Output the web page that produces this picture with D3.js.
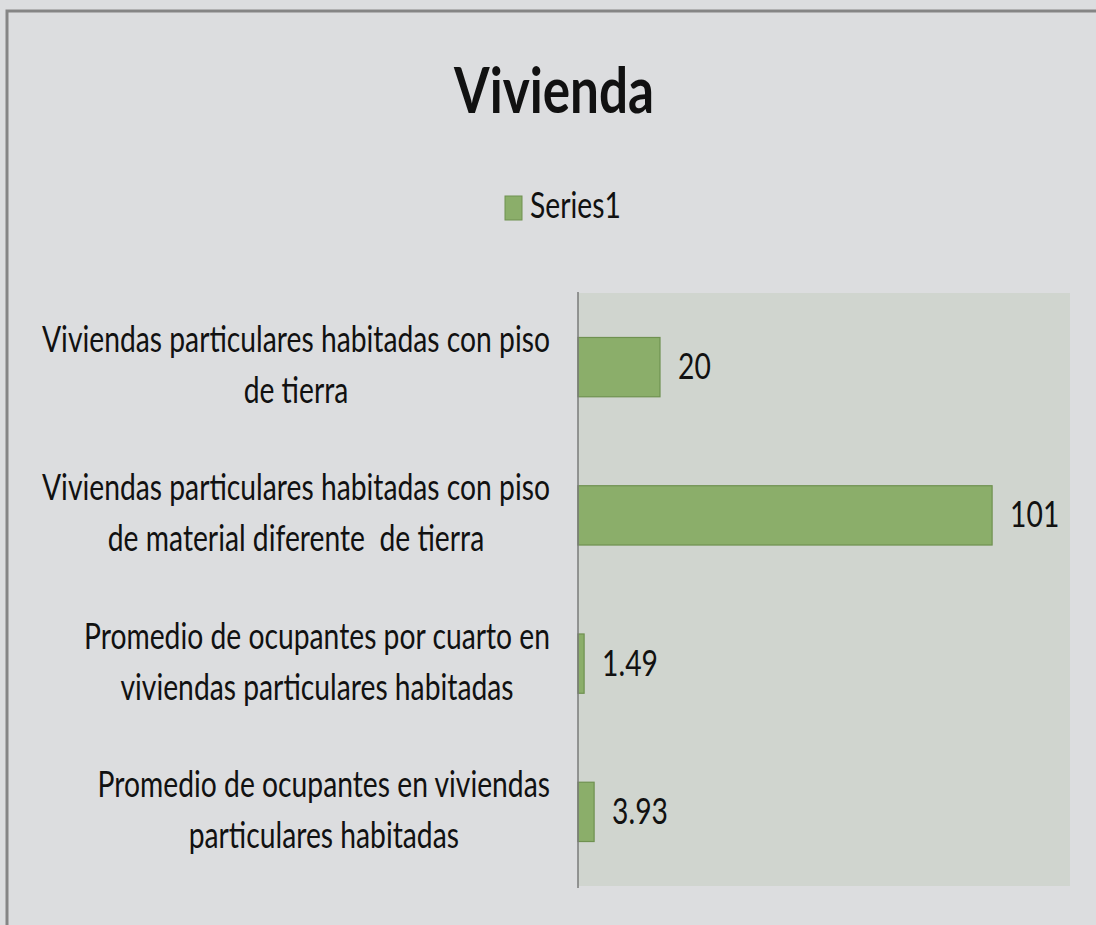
<!DOCTYPE html>
<html>
<head>
<meta charset="utf-8">
<script src="https://cdn.jsdelivr.net/npm/d3@7"></script>
<style>
    html, body { margin: 0; padding: 0; background: #fff; }
    svg { display: block; }
    text { font-family: Lato, "Open Sans", sans-serif; fill: #111; white-space: pre; }
</style>
</head>
<body>
<svg id="chart" width="1096" height="925"></svg>
<script>
// chart data
const categories = [
    ["Viviendas particulares habitadas con piso", "de tierra"],
    ["Viviendas particulares habitadas con piso", "de material diferente  de tierra"],
    ["Promedio de ocupantes por cuarto en", "viviendas particulares habitadas"],
    ["Promedio de ocupantes en viviendas", "particulares habitadas"]
];
const values = [20, 101, 1.49, 3.93];
const valueLabels = ["20", "101", "1.49", "3.93"];
const seriesName = "Series1";
const chartTitle = "Vivienda";
const xDomain = [0, 120];

const W = 1096, H = 925;
const plot = {left: 578, right: 1070, top: 293, bottom: 886};
const LABEL_EDGE = 550;
const SQUASH = 0.785;       // text in the source is narrow, calibri-like

const svg = d3.select("#chart");

// place a text at (x, y) and squeeze it horizontally around that point
const squeezed = (x, y, k) => `translate(${x},${y}) scale(${k},1)`;

// background and frame
svg.append("rect")
    .attr("width", W).attr("height", H)
    .attr("fill", "#dcdddf");
svg.append("path")
    .attr("d", `M7,${H} V11 H${W}`)
    .attr("fill", "none")
    .attr("stroke", "#858585")
    .attr("stroke-width", 3);

// title
svg.append("text")
    .attr("transform", squeezed(554, 113, 0.8))
    .attr("text-anchor", "middle")
    .attr("font-size", 64)
    .attr("font-weight", "bold")
    .text(chartTitle);

// legend
const legend = svg.append("g").attr("transform", "translate(505,196)");
legend.append("rect")
    .attr("width", 17).attr("height", 24)
    .attr("fill", "#8bae6a")
    .attr("stroke", "#6f9150")
    .attr("stroke-width", 1);
legend.append("text")
    .attr("transform", squeezed(25, 22, SQUASH))
    .attr("font-size", 36)
    .text(seriesName);

// scales
const x = d3.scaleLinear().domain(xDomain).range([plot.left, plot.right]);
const y = d3.scaleBand()
    .domain(d3.range(categories.length))
    .range([plot.top, plot.bottom])
    .paddingInner(0.6)
    .paddingOuter(0.3);

// plot area
svg.append("rect")
    .attr("x", plot.left).attr("y", plot.top)
    .attr("width", plot.right - plot.left)
    .attr("height", plot.bottom - plot.top)
    .attr("fill", "#d0d5cf");

// bars
svg.append("g")
    .selectAll("rect")
    .data(values)
    .join("rect")
    .attr("x", x(0))
    .attr("y", (d, i) => y(i))
    .attr("width", d => x(d) - x(0))
    .attr("height", y.bandwidth())
    .attr("fill", "#8bae6a")
    .attr("stroke", "#6f9150")
    .attr("stroke-width", 1.2);

// value labels
svg.append("g")
    .selectAll("text")
    .data(values)
    .join("text")
    .attr("transform", (d, i) => squeezed(x(d) + 18, y(i) + y.bandwidth() / 2 + 12, SQUASH))
    .attr("font-size", 36)
    .text((d, i) => valueLabels[i]);

// category labels, lines centred on each other, block right-aligned
const labels = svg.append("g")
    .selectAll("g")
    .data(categories)
    .join("g")
    .attr("transform", (d, i) => `translate(0,${y(i) + y.bandwidth() / 2})`);

labels.each(function (lines) {
    const g = d3.select(this);
    const texts = g.selectAll("text")
        .data(lines)
        .join("text")
        .attr("font-size", 36)
        .attr("text-anchor", "middle")
        .text(d => d);
    let maxW = 0;
    texts.each(function () { maxW = Math.max(maxW, this.getComputedTextLength() * SQUASH); });
    texts.attr("transform", (d, j) => squeezed(LABEL_EDGE - maxW / 2, j === 0 ? -15 : 36, SQUASH));
});

// category axis line
svg.append("line")
    .attr("x1", plot.left).attr("x2", plot.left)
    .attr("y1", plot.top - 1).attr("y2", plot.bottom + 2)
    .attr("stroke", "#7a7a7a")
    .attr("stroke-width", 1.5);
</script>
</body>
</html>
